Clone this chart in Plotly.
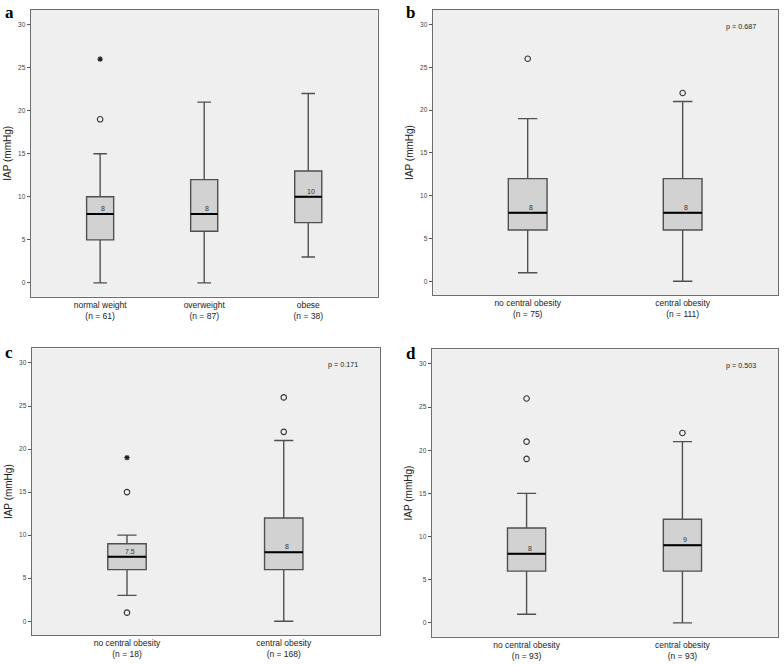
import plotly.graph_objects as go

# panel a: BMI groups
a_cats = ["normal weight<br>(n = 61)", "overweight<br>(n = 87)", "obese<br>(n = 38)"]
a_low = [0, 0, 3]
a_q1 = [5, 6, 7]
a_med = [8, 8, 10]
a_q3 = [10, 12, 13]
a_high = [15, 21, 22]
a_circ_x = [0]
a_circ_y = [19]
a_star_x = [0]
a_star_y = [26]

# panel b
b_cats = ["no central obesity<br>(n = 75)", "central obesity<br>(n = 111)"]
b_low = [1, 0]
b_q1 = [6, 6]
b_med = [8, 8]
b_q3 = [12, 12]
b_high = [19, 21]
b_circ_x = [0, 1]
b_circ_y = [26, 22]
b_star_x = []
b_star_y = []
b_p = "p = 0.687"

# panel c
c_cats = ["no central obesity<br>(n = 18)", "central obesity<br>(n = 168)"]
c_low = [3, 0]
c_q1 = [6, 6]
c_med = [7.5, 8]
c_q3 = [9, 12]
c_high = [10, 21]
c_circ_x = [0, 0, 1, 1]
c_circ_y = [1, 15, 22, 26]
c_star_x = [0]
c_star_y = [19]
c_p = "p = 0.171"

# panel d
d_cats = ["no central obesity<br>(n = 93)", "central obesity<br>(n = 93)"]
d_low = [1, 0]
d_q1 = [6, 6]
d_med = [8, 9]
d_q3 = [11, 12]
d_high = [15, 21]
d_circ_x = [0, 0, 0, 1]
d_circ_y = [19, 21, 26, 22]
d_star_x = []
d_star_y = []
d_p = "p = 0.503"

FONT = "Arial, Liberation Sans, sans-serif"

panels = [
    dict(letter="a", cats=a_cats, low=a_low, q1=a_q1, med=a_med, q3=a_q3, high=a_high,
         cx=a_circ_x, cy=a_circ_y, sx=a_star_x, sy=a_star_y, p=None,
         xdom=[0.0392, 0.4817], ydom=[0.5539, 0.985], xr=[-0.667, 2.667], w=0.26,
         lx=0.004, ly=0.999),
    dict(letter="b", cats=b_cats, low=b_low, q1=b_q1, med=b_med, q3=b_q3, high=b_high,
         cx=b_circ_x, cy=b_circ_y, sx=b_star_x, sy=b_star_y, p=b_p,
         xdom=[0.5519, 0.9927], ydom=[0.5564, 0.985], xr=[-0.613, 1.617], w=0.25,
         lx=0.515, ly=0.998),
    dict(letter="c", cats=c_cats, low=c_low, q1=c_q1, med=c_med, q3=c_q3, high=c_high,
         cx=c_circ_x, cy=c_circ_y, sx=c_star_x, sy=c_star_y, p=c_p,
         xdom=[0.0404, 0.4847], ydom=[0.0451, 0.4762], xr=[-0.608, 1.614], w=0.245,
         lx=0.004, ly=0.487),
    dict(letter="d", cats=d_cats, low=d_low, q1=d_q1, med=d_med, q3=d_q3, high=d_high,
         cx=d_circ_x, cy=d_circ_y, sx=d_star_x, sy=d_star_y, p=d_p,
         xdom=[0.5506, 0.9927], ydom=[0.0426, 0.4747], xr=[-0.609, 1.615], w=0.245,
         lx=0.515, ly=0.486),
]

fig = go.Figure()
annotations = []

for k, pn in enumerate(panels):
    n = k + 1
    xa = "x" if n == 1 else "x%d" % n
    ya = "y" if n == 1 else "y%d" % n
    pos = list(range(len(pn["cats"])))

    fig.add_trace(go.Box(
        x=pos, q1=pn["q1"], median=pn["med"], q3=pn["q3"],
        lowerfence=pn["low"], upperfence=pn["high"],
        width=pn["w"], whiskerwidth=0.5, boxpoints=False,
        fillcolor="#d2d2d2", line=dict(color="#505050", width=1.4),
        xaxis=xa, yaxis=ya, showlegend=False, hoverinfo="skip",
    ))

    # thicker black median line on top
    mx, my = [], []
    for i, m in zip(pos, pn["med"]):
        mx += [i - pn["w"] / 2, i + pn["w"] / 2, None]
        my += [m, m, None]
    fig.add_trace(go.Scatter(x=mx, y=my, mode="lines", line=dict(color="black", width=2),
                             xaxis=xa, yaxis=ya, showlegend=False, hoverinfo="skip"))

    if pn["cx"]:
        fig.add_trace(go.Scatter(x=pn["cx"], y=pn["cy"], mode="markers",
                                 marker=dict(symbol="circle-open", size=5.5, color="#333333",
                                             line=dict(width=1.1)),
                                 xaxis=xa, yaxis=ya, showlegend=False, hoverinfo="skip"))
    if pn["sx"]:
        fig.add_trace(go.Scatter(x=pn["sx"], y=pn["sy"], mode="markers",
                                 marker=dict(symbol="asterisk-open", size=4.5, color="#222222",
                                             line=dict(width=1.2, color="#222222")),
                                 xaxis=xa, yaxis=ya, showlegend=False, hoverinfo="skip"))

    for i, m in zip(pos, pn["med"]):
        annotations.append(dict(x=i, y=m, xref=xa, yref=ya, text=str(m), showarrow=False,
                                xanchor="center", yanchor="bottom", xshift=3, yshift=0,
                                font=dict(size=7, color="#333333", family=FONT)))

    if pn["p"]:
        annotations.append(dict(x=0.942, y=29.8, xref=xa + " domain", yref=ya, text=pn["p"],
                                showarrow=False, xanchor="right", yanchor="middle",
                                font=dict(size=7.2, color="#222222", family=FONT)))

    annotations.append(dict(x=pn["lx"], y=pn["ly"], xref="paper", yref="paper",
                            text="<b>%s</b>" % pn["letter"], showarrow=False,
                            xanchor="left", yanchor="top",
                            font=dict(size=17, color="black",
                                      family="Liberation Serif, Times New Roman, serif")))

    xkey = "xaxis" if n == 1 else "xaxis%d" % n
    ykey = "yaxis" if n == 1 else "yaxis%d" % n
    fig.update_layout(**{
        xkey: dict(domain=pn["xdom"], anchor=ya, range=pn["xr"], tickvals=pos,
                   ticktext=pn["cats"], ticks="", showgrid=False, zeroline=False,
                   showline=True, mirror=True, linecolor="#6e6e6e", linewidth=1.2,
                   automargin=False,
                   tickfont=dict(size=8.5, color="#222222", family=FONT)),
        ykey: dict(domain=pn["ydom"], anchor=xa, range=[-1.6, 31.7],
                   tickvals=[0, 5, 10, 15, 20, 25, 30], ticks="outside", ticklen=3,
                   tickcolor="#555555", showgrid=False, zeroline=False,
                   showline=True, mirror=True, linecolor="#6e6e6e", linewidth=1.2,
                   automargin=False,
                   tickfont=dict(size=6.5, color="#444444", family=FONT),
                   title=dict(text="IAP (mmHg)", standoff=4,
                              font=dict(size=10, color="#222222", family=FONT))),
    })

fig.update_layout(
    width=784, height=665,
    margin=dict(l=0, r=0, t=0, b=0),
    paper_bgcolor="white",
    plot_bgcolor="#efefef",
    annotations=annotations,
    showlegend=False,
)

# page body has a default 8px margin; remove it so the figure fills the window
fig.write_html("out.html", config={"displayModeBar": False},
               post_script="document.body.style.margin='0';")
